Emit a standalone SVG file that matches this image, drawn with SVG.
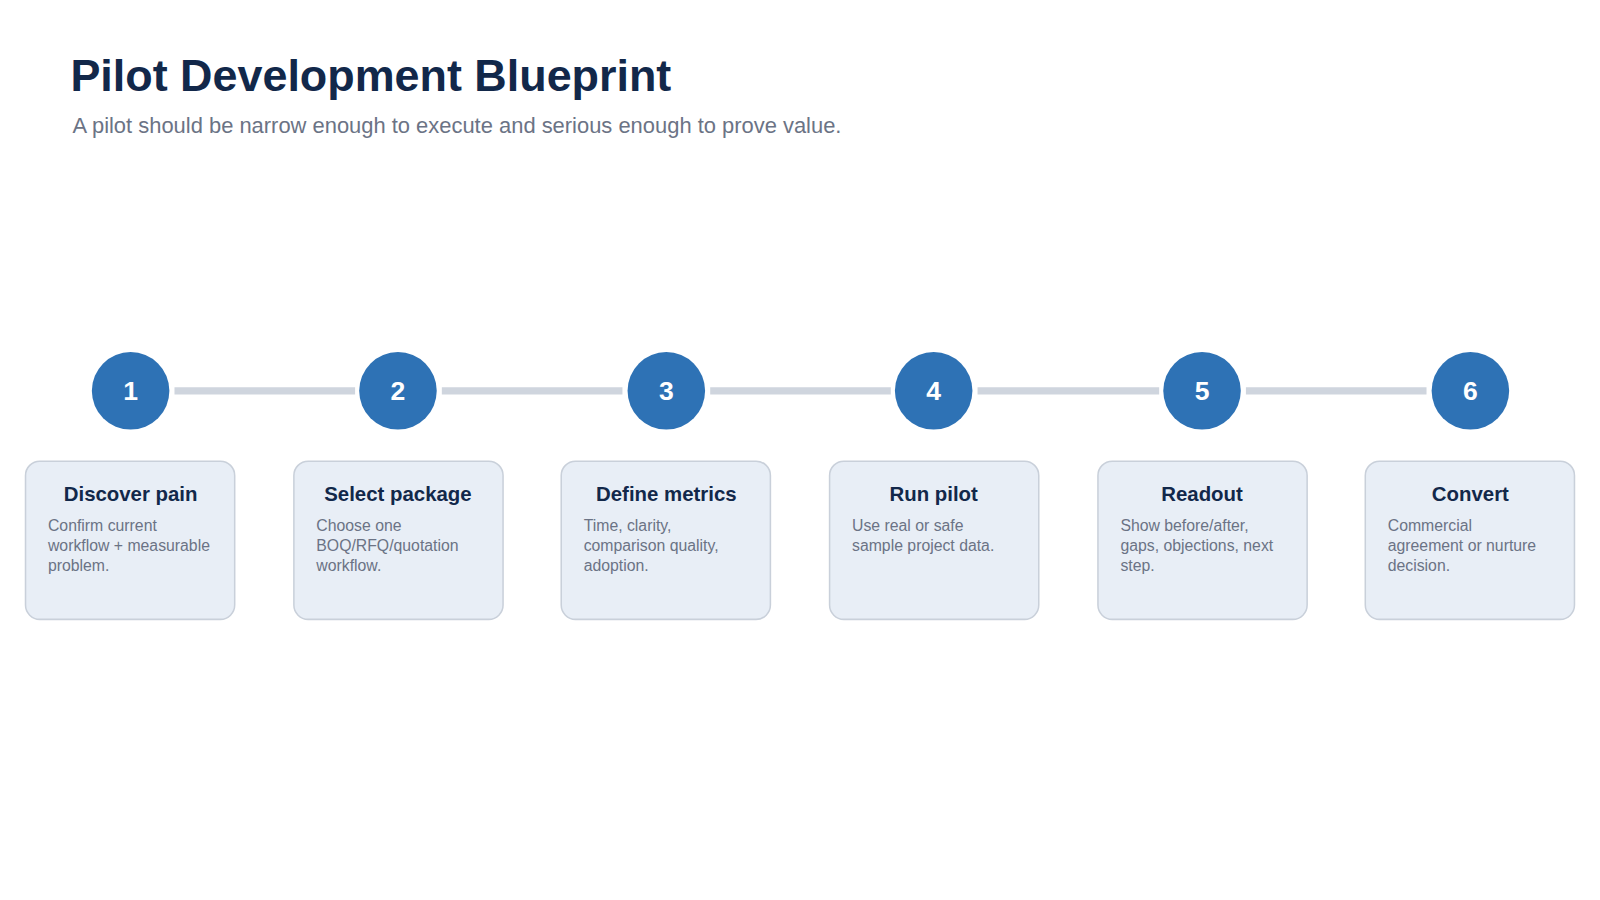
<svg xmlns="http://www.w3.org/2000/svg" width="1600" height="900" viewBox="0 0 1600 900">
<style>
text{font-family:"Liberation Sans",Arial,sans-serif}
.c{fill:#2e72b5}
.n{fill:#fff;font-size:26px;font-weight:bold;text-anchor:middle}
.card{fill:#e8eef6;stroke:#c9d0da;stroke-width:1.5}
.t{fill:#12284a;font-size:20px;font-weight:bold;text-anchor:middle}
.b{fill:#6b7385;font-size:15.5px}
.ln{stroke:#cfd5de;stroke-width:7}
</style>
<rect width="1600" height="900" fill="#fff"/>
<g transform="scale(1.0204)">
<text x="69" y="89" font-size="44" font-weight="bold" fill="#12284a">Pilot Development Blueprint</text>
<text x="71" y="130" font-size="21.5" fill="#6b7385">A pilot should be narrow enough to execute and serious enough to prove value.</text>
<g id="connectors">
<line class="ln" x1="171" y1="383" x2="348" y2="383"/>
<line class="ln" x1="433" y1="383" x2="610" y2="383"/>
<line class="ln" x1="696" y1="383" x2="873" y2="383"/>
<line class="ln" x1="958" y1="383" x2="1136" y2="383"/>
<line class="ln" x1="1221" y1="383" x2="1398" y2="383"/>
</g>
<g id="step1"><circle class="c" cx="128" cy="383" r="38"/><text class="n" x="128" y="392">1</text>
<rect class="card" x="25" y="452" width="205" height="155" rx="14"/><text class="t" x="128" y="491">Discover pain</text>
<text class="b" x="47" y="520">Confirm current</text><text class="b" x="47" y="540">workflow + measurable</text><text class="b" x="47" y="560">problem.</text></g>
<g id="step2"><circle class="c" cx="390" cy="383" r="38"/><text class="n" x="390" y="392">2</text>
<rect class="card" x="288" y="452" width="205" height="155" rx="14"/><text class="t" x="390" y="491">Select package</text>
<text class="b" x="310" y="520">Choose one</text><text class="b" x="310" y="540">BOQ/RFQ/quotation</text><text class="b" x="310" y="560">workflow.</text></g>
<g id="step3"><circle class="c" cx="653" cy="383" r="38"/><text class="n" x="653" y="392">3</text>
<rect class="card" x="550" y="452" width="205" height="155" rx="14"/><text class="t" x="653" y="491">Define metrics</text>
<text class="b" x="572" y="520">Time, clarity,</text><text class="b" x="572" y="540">comparison quality,</text><text class="b" x="572" y="560">adoption.</text></g>
<g id="step4"><circle class="c" cx="915" cy="383" r="38"/><text class="n" x="915" y="392">4</text>
<rect class="card" x="813" y="452" width="205" height="155" rx="14"/><text class="t" x="915" y="491">Run pilot</text>
<text class="b" x="835" y="520">Use real or safe</text><text class="b" x="835" y="540">sample project data.</text></g>
<g id="step5"><circle class="c" cx="1178" cy="383" r="38"/><text class="n" x="1178" y="392">5</text>
<rect class="card" x="1076" y="452" width="205" height="155" rx="14"/><text class="t" x="1178" y="491">Readout</text>
<text class="b" x="1098" y="520">Show before/after,</text><text class="b" x="1098" y="540">gaps, objections, next</text><text class="b" x="1098" y="560">step.</text></g>
<g id="step6"><circle class="c" cx="1441" cy="383" r="38"/><text class="n" x="1441" y="392">6</text>
<rect class="card" x="1338" y="452" width="205" height="155" rx="14"/><text class="t" x="1441" y="491">Convert</text>
<text class="b" x="1360" y="520">Commercial</text><text class="b" x="1360" y="540">agreement or nurture</text><text class="b" x="1360" y="560">decision.</text></g>
</g>
</svg>
